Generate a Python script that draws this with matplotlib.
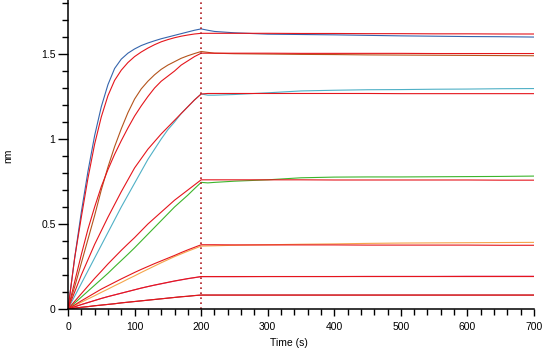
import matplotlib
matplotlib.use("Agg")
import matplotlib.pyplot as plt
from matplotlib.ticker import MultipleLocator

plt.rcParams['font.family'] = ['Liberation Sans', 'DejaVu Sans']

# ---- data ----
t_assoc = [0, 10, 20, 30, 40, 50, 60, 70, 80, 90, 100, 110, 120, 130, 140, 150, 160, 170, 180, 190, 200]
t_dis = [200, 210, 220, 250, 300, 350, 400, 450, 500, 550, 600, 650, 700]

# measured curves, association phase
blue_a   = [0, 0.30, 0.57, 0.81, 1.02, 1.19, 1.32, 1.415, 1.47, 1.505, 1.53, 1.55, 1.565, 1.578, 1.59, 1.60, 1.61, 1.62, 1.63, 1.64, 1.648]
brown_a  = [0, 0.13, 0.27, 0.41, 0.55, 0.70, 0.835, 0.955, 1.06, 1.155, 1.235, 1.295, 1.34, 1.378, 1.41, 1.435, 1.455, 1.475, 1.49, 1.503, 1.515]
cyan_a   = [0, 0.075, 0.15, 0.225, 0.30, 0.375, 0.45, 0.525, 0.60, 0.67, 0.74, 0.81, 0.88, 0.94, 1.00, 1.055, 1.10, 1.15, 1.19, 1.23, 1.265]
green_a  = [0, 0.035, 0.07, 0.105, 0.14, 0.175, 0.21, 0.248, 0.285, 0.322, 0.36, 0.40, 0.44, 0.48, 0.52, 0.56, 0.60, 0.635, 0.67, 0.708, 0.745]
orange_a = [0, 0.02, 0.04, 0.059, 0.078, 0.098, 0.117, 0.137, 0.156, 0.176, 0.195, 0.215, 0.234, 0.253, 0.272, 0.29, 0.308, 0.324, 0.34, 0.355, 0.37]
pink_a   = [0, 0.013, 0.026, 0.038, 0.05, 0.062, 0.073, 0.083, 0.093, 0.103, 0.113, 0.123, 0.132, 0.14, 0.148, 0.156, 0.164, 0.171, 0.178, 0.184, 0.19]
dred_a   = [0, 0.005, 0.01, 0.014, 0.019, 0.023, 0.027, 0.031, 0.036, 0.040, 0.044, 0.048, 0.052, 0.056, 0.060, 0.064, 0.068, 0.072, 0.075, 0.079, 0.082]

# measured curves, dissociation phase
blue_d   = [1.648, 1.64, 1.633, 1.625, 1.617, 1.615, 1.613, 1.61, 1.607, 1.605, 1.603, 1.602, 1.60]
brown_d  = [1.515, 1.51, 1.505, 1.502, 1.50, 1.498, 1.497, 1.495, 1.494, 1.493, 1.492, 1.491, 1.49]
cyan_d   = [1.265, 1.258, 1.258, 1.262, 1.272, 1.283, 1.287, 1.29, 1.291, 1.293, 1.294, 1.296, 1.297]
green_d  = [0.745, 0.742, 0.745, 0.752, 0.76, 0.772, 0.776, 0.777, 0.777, 0.778, 0.779, 0.780, 0.782]
orange_d = [0.37, 0.371, 0.372, 0.375, 0.378, 0.381, 0.383, 0.386, 0.388, 0.389, 0.390, 0.391, 0.392]
pink_d   = [0.19, 0.19, 0.19, 0.19, 0.191, 0.191, 0.191, 0.192, 0.192, 0.192, 0.193, 0.193, 0.193]
dred_d   = [0.082, 0.082, 0.082, 0.082, 0.082, 0.082, 0.082, 0.082, 0.082, 0.082, 0.082, 0.082, 0.082]

# global fits (red), association phase
blue_fa   = [0, 0.30, 0.54, 0.77, 0.97, 1.13, 1.255, 1.345, 1.405, 1.45, 1.485, 1.512, 1.535, 1.555, 1.572, 1.585, 1.596, 1.605, 1.612, 1.618, 1.622]
brown_fa  = [0, 0.16, 0.32, 0.47, 0.60, 0.72, 0.82, 0.91, 0.99, 1.065, 1.135, 1.195, 1.25, 1.30, 1.34, 1.37, 1.40, 1.435, 1.46, 1.485, 1.505]
cyan_fa   = [0, 0.10, 0.20, 0.29, 0.38, 0.46, 0.54, 0.615, 0.69, 0.76, 0.83, 0.885, 0.94, 0.985, 1.03, 1.07, 1.11, 1.15, 1.19, 1.23, 1.265]
green_fa  = [0, 0.045, 0.09, 0.135, 0.18, 0.222, 0.265, 0.305, 0.345, 0.383, 0.42, 0.46, 0.50, 0.535, 0.57, 0.605, 0.64, 0.67, 0.70, 0.73, 0.76]
orange_fa = [0, 0.024, 0.048, 0.071, 0.094, 0.117, 0.137, 0.157, 0.177, 0.196, 0.215, 0.233, 0.25, 0.267, 0.283, 0.299, 0.315, 0.332, 0.348, 0.363, 0.378]
pink_fa   = [0, 0.013, 0.026, 0.038, 0.05, 0.062, 0.073, 0.083, 0.093, 0.103, 0.113, 0.123, 0.132, 0.141, 0.149, 0.157, 0.165, 0.172, 0.179, 0.185, 0.191]
dred_fa   = [0, 0.005, 0.01, 0.014, 0.019, 0.023, 0.027, 0.031, 0.036, 0.040, 0.044, 0.048, 0.052, 0.056, 0.060, 0.064, 0.068, 0.072, 0.075, 0.079, 0.082]

# global fits (red), dissociation phase
blue_fd   = [1.622, 1.622, 1.622, 1.622, 1.622, 1.621, 1.621, 1.620, 1.620, 1.619, 1.619, 1.618, 1.618]
brown_fd  = [1.505, 1.505, 1.505, 1.505, 1.505, 1.504, 1.504, 1.504, 1.504, 1.503, 1.503, 1.503, 1.503]
cyan_fd   = [1.268, 1.268, 1.268, 1.268, 1.268, 1.268, 1.268, 1.268, 1.267, 1.267, 1.267, 1.267, 1.267]
green_fd  = [0.76, 0.76, 0.76, 0.76, 0.76, 0.76, 0.759, 0.759, 0.759, 0.759, 0.759, 0.758, 0.758]
orange_fd = [0.378, 0.378, 0.378, 0.377, 0.377, 0.377, 0.377, 0.376, 0.376, 0.376, 0.376, 0.375, 0.375]
pink_fd   = [0.191, 0.191, 0.191, 0.191, 0.191, 0.191, 0.191, 0.191, 0.191, 0.191, 0.191, 0.191, 0.191]
dred_fd   = [0.082, 0.082, 0.082, 0.082, 0.082, 0.082, 0.082, 0.082, 0.082, 0.082, 0.082, 0.082, 0.082]

x_ticks = [0, 100, 200, 300, 400, 500, 600, 700]
y_ticks = [0, 0.5, 1, 1.5]
y_ticklabels = ['0', '0.5', '1', '1.5']

data_series = [
    (blue_a, blue_d, '#3565ad'),
    (brown_a, brown_d, '#b4541c'),
    (cyan_a, cyan_d, '#4fb0c6'),
    (green_a, green_d, '#3db52c'),
    (orange_a, orange_d, '#f5a54a'),
    (pink_a, pink_d, '#d94f8c'),
    (dred_a, dred_d, '#a3282c'),
]
fit_series = [
    (blue_fa, blue_fd), (brown_fa, brown_fd), (cyan_fa, cyan_fd), (green_fa, green_fd),
    (orange_fa, orange_fd), (pink_fa, pink_fd), (dred_fa, dred_fd),
]
fit_color = '#e5151c'

# ---- figure ----
W, H = 543, 351
fig = plt.figure(figsize=(W / 100, H / 100), dpi=100)
ax = fig.add_axes([68 / W, (H - 309) / H, 466 / W, 309 / H])

for a, d, c in data_series:
    ax.plot(t_assoc + t_dis[1:], a + d[1:], color=c, lw=0.8, solid_joinstyle='round')
for a, d in fit_series:
    ax.plot(t_assoc + t_dis[1:], a + d[1:], color=fit_color, lw=0.8, solid_joinstyle='round')

ax.axvline(200, color='#b01e24', lw=1.2, ls=(0, (1, 2)))

ax.set_xlim(0, 700)
ax.set_ylim(0, 1.818)
ax.set_xticks(x_ticks)
ax.set_yticks(y_ticks)
ax.set_yticklabels(y_ticklabels)
ax.xaxis.set_minor_locator(MultipleLocator(20))
ax.yaxis.set_minor_locator(MultipleLocator(0.1))

for s in ['top', 'right']:
    ax.spines[s].set_visible(False)
for s in ['left', 'bottom']:
    ax.spines[s].set_linewidth(1.1)

ax.tick_params(axis='x', which='major', direction='out', length=5, width=1, labelsize=7.5, pad=4)
ax.tick_params(axis='x', which='minor', direction='out', length=4, width=1)
ax.tick_params(axis='y', which='major', direction='out', length=7, width=1, labelsize=7.5, pad=2)
ax.tick_params(axis='y', which='minor', direction='out', length=4.5, width=1)

fig.text(289 / W, 1 - 343 / H, 'Time (s)', ha='center', va='center', fontsize=7.5)
fig.text(8 / W, 1 - 156 / H, 'nm', ha='center', va='center', rotation=90, fontsize=7.5)

fig.savefig('out.png', dpi=100)
